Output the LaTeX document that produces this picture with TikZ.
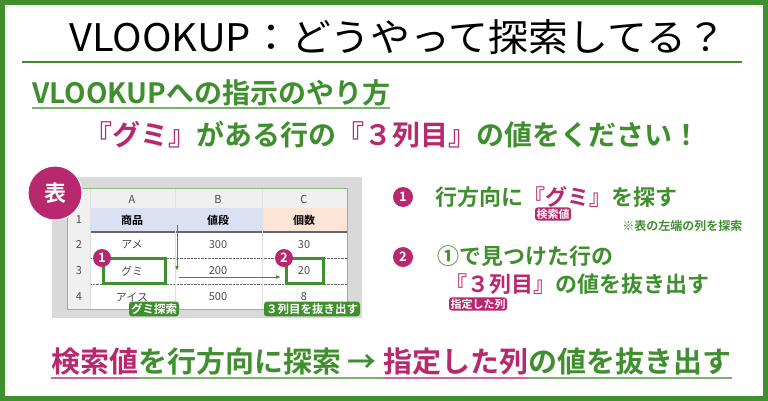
\documentclass[tikz,border=0pt]{standalone}
\usepackage{fontspec}
\setmainfont{Noto Sans CJK JP}[BoldFont={* Bold}]
\usetikzlibrary{arrows.meta}
\definecolor{gr}{HTML}{3F8F2F}
\definecolor{mg}{HTML}{B8286E}
\definecolor{hd}{HTML}{D9E1F2}
\definecolor{hc}{HTML}{FCE4D6}
\tikzset{
 badge/.style={circle,fill=mg,text=white,font=\bfseries\fontsize{13}{13}\selectfont,inner sep=0pt,minimum size=20pt},
 tag/.style={rounded corners=3pt,fill=gr,text=white,font=\bfseries\fontsize{11.5}{11.5}\selectfont,inner sep=2pt},
 ptag/.style={rounded corners=3pt,fill=mg,text=white,font=\bfseries\fontsize{11}{11}\selectfont,inner sep=1.5pt},
 cell/.style={font=\fontsize{11}{11}\selectfont,text=black!70},
}
\begin{document}
\begin{tikzpicture}[x=1pt,y=-1pt]
\useasboundingbox (0,0) rectangle (768,401);
\fill[white] (0,0) rectangle (768,401);
\draw[gr,line width=5pt] (2.5,2.5) rectangle (765.5,398.5);
\node[font=\fontsize{38}{38}\selectfont,xscale=1.05] (title) at (398,37) {VLOOKUP：どうやって探索してる？};
\draw[gr,line width=1.5pt] (22,62) -- (742,62);
\node[anchor=west,font=\bfseries\fontsize{28}{28}\selectfont,text=gr,inner sep=0pt] (sub) at (32,93) {VLOOKUPへの指示のやり方};
\draw[gr!70,line width=1.2pt] (32,108) -- (sub.east |- 0,108);
\node[font=\bfseries\fontsize{28}{28}\selectfont,text=gr] (ask) at (392,135) {\textcolor{mg}{『グミ』}がある行の\textcolor{mg}{『３列目』}の値をください！};
% table
\fill[black!15] (52,177) rectangle (362,318);
\fill[white] (67,188) rectangle (347,309);
\fill[black!6] (67,188) rectangle (347,208);
\fill[black!6] (67,188) rectangle (90,309);
\fill[hd] (90,208) rectangle (262,232);
\fill[hc] (262,208) rectangle (347,232);
\draw[black!60,line width=1.5pt] (90,232) -- (347,232);
\foreach \y in {258,284} \draw[black!60,densely dotted] (90,\y) -- (347,\y);
\foreach \x in {90,175,262} \draw[black!12] (\x,188) -- (\x,309);
\draw[gr!60] (67,188) rectangle (347,309);
\node[cell] (ca) at (132,199) {A};
\node[cell] (cb) at (218,199) {B};
\node[cell] (cc) at (304,199) {C};
\foreach \n/\y in {1/220,2/245,3/271,4/297} \node[cell] (r\n) at (79,\y) {\n};
\node[cell,font=\bfseries\fontsize{11}{11}\selectfont,text=black] (h1) at (132,220) {商品};
\node[cell,font=\bfseries\fontsize{11}{11}\selectfont,text=black] (h2) at (218,220) {値段};
\node[cell,font=\bfseries\fontsize{11}{11}\selectfont,text=black] (h3) at (304,220) {個数};
\node[cell] (a2) at (132,245) {アメ};
\node[cell] (b2) at (218,245) {300};
\node[cell] (c2) at (304,245) {30};
\node[cell] (a3) at (132,271) {グミ};
\node[cell] (b3) at (218,271) {200};
\node[cell] (c3) at (304,271) {20};
\node[cell] (a4) at (132,297) {アイス};
\node[cell] (b4) at (218,297) {500};
\node[cell] (c4) at (304,297) {8};
\draw[gr,line width=3pt] (103,258) rectangle (165,283);
\draw[gr,line width=3pt] (286,258) rectangle (323,283);
\coordinate (v1) at (177,225); \coordinate (v2) at (177,271);
\coordinate (h1s) at (179,277); \coordinate (h2e) at (281,277);
\draw[gr,line width=1pt,-{Latex[length=5pt]}] (v1) -- (v2);
\draw[gr,line width=1pt,-{Latex[length=5pt]}] (h1s) -- (h2e);
\node[badge,minimum size=18pt] (t1) at (102,258) {1};
\node[badge,minimum size=18pt] (t2) at (284,258) {2};
\node[tag] (g1) at (154,309) {グミ探索};
\node[tag] (g2) at (312,309) {３列目を抜き出す};
\node[circle,fill=mg,draw=white,line width=1pt,text=white,font=\bfseries\fontsize{22}{22}\selectfont,minimum size=54pt,inner sep=0pt] (hyo) at (55,193) {表};
% right
\node[badge] (s1) at (403,197) {1};
\node[anchor=west,font=\bfseries\fontsize{22}{22}\selectfont,text=gr] (l1) at (432,197) {行方向に\textcolor{mg}{『グミ』}を探す};
\node[ptag] (k1) at (553,214) {検索値};
\node[anchor=east,font=\bfseries\fontsize{12}{12}\selectfont,text=gr] (note) at (746,226) {※表の左端の列を探索};
\node[badge] (s2) at (403,257) {2};
\node[anchor=west,font=\bfseries\fontsize{22}{22}\selectfont,text=gr] (l2) at (434,256) {①で見つけた行の};
\node[anchor=west,font=\bfseries\fontsize{22}{22}\selectfont,text=gr] (l3) at (442,284) {\textcolor{mg}{『３列目』}の値を抜き出す};
\node[ptag] (k2) at (478,304) {指定した列};
% bottom
\node[anchor=west,font=\bfseries\fontsize{29}{29}\selectfont,text=gr,inner sep=0pt] (bt) at (51,362) {\textcolor{mg}{検索値}を行方向に探索 → \textcolor{mg}{指定した列}の値を抜き出す};
\draw[gr!70,line width=1.2pt] (51,378) -- (bt.east |- 0,378);
\draw[mg!70,line width=1.2pt] (51,378) -- (138,378);
\draw[mg!70,line width=1.2pt] (383,378) -- (528,378);
\end{tikzpicture}
\end{document}
